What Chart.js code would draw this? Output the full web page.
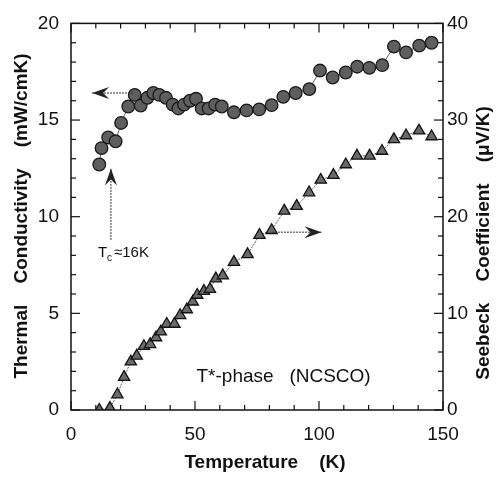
<!DOCTYPE html>
<html>
<head>
<meta charset="utf-8">
<script src="https://cdn.jsdelivr.net/npm/chart.js@4.4.1/dist/chart.umd.min.js"></script>
<style>
  body { margin: 0; background: #fff; }
  #wrap { width: 498px; height: 478px; position: relative; }
</style>
</head>
<body>
<div id="wrap"><canvas id="grafico" width="498" height="478"></canvas></div>
<script>
// thermal conductivity (left axis)
const tempKappa = [11.4, 12.3, 15.0, 18.0, 20.2, 23.1, 25.7, 28.1, 30.8, 33.2, 35.6, 38.3, 41.0, 43.3, 45.6, 48.0, 50.4, 52.7, 55.5, 58.1, 60.8, 65.7, 70.8, 75.9, 80.9, 85.6, 90.6, 96.1, 100.4, 105.5, 110.8, 115.4, 120.3, 125.5, 130.2, 135.1, 140.4, 145.4];
const kappa = [12.7, 13.55, 14.1, 13.9, 14.85, 15.7, 16.3, 15.75, 16.15, 16.4, 16.3, 16.15, 15.8, 15.6, 15.8, 16.0, 16.1, 15.6, 15.6, 15.8, 15.7, 15.4, 15.5, 15.55, 15.77, 16.2, 16.4, 16.6, 17.56, 17.2, 17.46, 17.76, 17.7, 17.84, 18.8, 18.5, 18.85, 19.0];

// seebeck (right axis)
const tempSeebeck = [11.4, 15.7, 18.7, 21.4, 24.1, 26.5, 29.4, 31.9, 34.3, 36.2, 38.6, 41.7, 44.0, 46.7, 49.1, 50.9, 53.6, 56.0, 58.4, 61.2, 65.7, 71.2, 76.0, 80.9, 86.0, 91.0, 96.0, 100.7, 105.8, 110.8, 115.3, 120.4, 125.4, 130.2, 135.1, 140.3, 145.4];
const seebeck = [0, 0.2, 1.6, 3.4, 5.0, 5.6, 6.6, 6.8, 7.5, 8.1, 8.9, 8.9, 9.8, 10.4, 11.2, 11.9, 12.3, 12.5, 13.6, 13.9, 15.3, 16.1, 18.1, 18.6, 20.6, 21.1, 22.5, 23.8, 24.3, 25.4, 26.3, 26.3, 26.8, 28.0, 28.4, 28.9, 28.3];

const fonte = '"Liberation Sans", Arial, sans-serif';

function juntaPontos(xs, ys) {
    return xs.map((x, i) => ({ x: x, y: ys[i] }));
}

// ticks pra dentro + titulos + setas
const extras = {
    id: 'extras',
    afterDraw(chart) {
        const ctx = chart.ctx;
        const a = chart.chartArea;
        const sx = chart.scales.x, sy = chart.scales.y, sy2 = chart.scales.y2;
        ctx.save();
        ctx.strokeStyle = '#111';
        ctx.lineWidth = 1.5;
        ctx.strokeRect(a.left, a.top, a.right - a.left, a.bottom - a.top);

        ctx.lineWidth = 1.2;
        for (let t = 0; t <= 150; t += 10) {
            let px = sx.getPixelForValue(t);
            let len = t % 50 == 0 ? 9 : 5;
            ctx.beginPath();
            ctx.moveTo(px, a.bottom); ctx.lineTo(px, a.bottom - len);
            ctx.moveTo(px, a.top); ctx.lineTo(px, a.top + len);
            ctx.stroke();
        }
        for (let v = 0; v <= 20; v += 1) {
            let py = sy.getPixelForValue(v);
            let len = v % 5 == 0 ? 9 : 5;
            ctx.beginPath();
            ctx.moveTo(a.left, py); ctx.lineTo(a.left + len, py);
            ctx.stroke();
        }
        for (let v = 0; v <= 40; v += 2) {
            let py = sy2.getPixelForValue(v);
            let len = v % 10 == 0 ? 9 : 5;
            ctx.beginPath();
            ctx.moveTo(a.right, py); ctx.lineTo(a.right - len, py);
            ctx.stroke();
        }

        // titulos dos eixos
        ctx.fillStyle = '#111';
        ctx.font = 'bold 19px ' + fonte;
        ctx.textAlign = 'center';
        ctx.textBaseline = 'middle';
        ctx.fillText('Temperature    (K)', 265, 463);

        ctx.save();
        ctx.translate(22, 216);
        ctx.rotate(-Math.PI / 2);
        ctx.fillText('Thermal    Conductivity    (mW/cmK)', 0, 0);
        ctx.restore();

        ctx.save();
        ctx.translate(484, 243);
        ctx.rotate(-Math.PI / 2);
        ctx.fillText('Seebeck    Coefficient    (\u03bcV/K)', 0, 0);
        ctx.restore();

        // setas
        function seta(x1, y1, x2, y2) {
            ctx.save();
            ctx.strokeStyle = '#333';
            ctx.lineWidth = 1;
            ctx.setLineDash([2, 1]);
            ctx.beginPath();
            ctx.moveTo(x1, y1); ctx.lineTo(x2, y2);
            ctx.stroke();
            ctx.setLineDash([]);
            let ang = Math.atan2(y2 - y1, x2 - x1);
            ctx.fillStyle = '#222';
            ctx.beginPath();
            ctx.moveTo(x2, y2);
            ctx.lineTo(x2 - 17 * Math.cos(ang) + 6 * Math.sin(ang), y2 - 17 * Math.sin(ang) - 6 * Math.cos(ang));
            ctx.lineTo(x2 - 11 * Math.cos(ang), y2 - 11 * Math.sin(ang));
            ctx.lineTo(x2 - 17 * Math.cos(ang) - 6 * Math.sin(ang), y2 - 17 * Math.sin(ang) + 6 * Math.cos(ang));
            ctx.closePath();
            ctx.fill();
            ctx.restore();
        }
        seta(sx.getPixelForValue(25), sy.getPixelForValue(16.4), sx.getPixelForValue(8.5), sy.getPixelForValue(16.4));
        seta(sx.getPixelForValue(81), sy2.getPixelForValue(18.4), sx.getPixelForValue(101), sy2.getPixelForValue(18.4));
        seta(sx.getPixelForValue(16.1), sy.getPixelForValue(8.8), sx.getPixelForValue(16.1), sy.getPixelForValue(12.5));

        // textos
        ctx.fillStyle = '#111';
        ctx.textAlign = 'left';
        ctx.textBaseline = 'alphabetic';
        ctx.font = '15px ' + fonte;
        let tx = sx.getPixelForValue(10.9), ty = sy.getPixelForValue(7.9);
        ctx.fillText('T', tx, ty);
        ctx.font = '10px ' + fonte;
        ctx.fillText('c', tx + 9, ty + 4);
        ctx.font = '15px ' + fonte;
        ctx.fillText('\u224816K', tx + 16, ty);

        ctx.font = '19px ' + fonte;
        ctx.textBaseline = 'middle';
        ctx.fillText('T*-phase   (NCSCO)', sx.getPixelForValue(50.6), sy.getPixelForValue(1.7));
        ctx.restore();
    }
};

const grafico = new Chart(document.getElementById('grafico'), {
    type: 'scatter',
    data: {
      datasets: [{
        label: 'Thermal Conductivity',
        data: juntaPontos(tempKappa, kappa),
        yAxisID: 'y',
        showLine: true,
        borderColor: '#666',
        borderWidth: 1,
        pointStyle: 'circle',
        pointRadius: 6.3,
        pointBackgroundColor: '#5e5e5e',
        pointBorderColor: '#1a1a1a',
        pointBorderWidth: 1.3
      }, {
        label: 'Seebeck',
        data: juntaPontos(tempSeebeck, seebeck),
        yAxisID: 'y2',
        showLine: true,
        borderColor: '#666',
        borderWidth: 1,
        borderDash: [2, 1],
        pointStyle: 'triangle',
        pointRadius: 6.5,
        pointBackgroundColor: '#6a6a6a',
        pointBorderColor: '#111',
        pointBorderWidth: 1.3
      }]
    },
    options: {
      responsive: false,
      animation: false,
      events: [],
      layout: { padding: { top: 14, left: 0, right: 0, bottom: 0 } },
      plugins: { legend: { display: false }, tooltip: { enabled: false } },
      scales: {
        x: {
          type: 'linear', min: 0, max: 150,
          afterFit: s => { s.height = 68; },
          grid: { display: false, drawTicks: false },
          border: { display: false },
          ticks: { stepSize: 50, padding: 13, color: '#111', font: { family: fonte, size: 19 } }
        },
        y: {
          type: 'linear', position: 'left', min: 0, max: 20,
          afterFit: s => { s.width = 71; },
          grid: { display: false, drawTicks: false },
          border: { display: false },
          ticks: { stepSize: 5, padding: 12, color: '#111', font: { family: fonte, size: 19 } }
        },
        y2: {
          type: 'linear', position: 'right', min: 0, max: 40,
          afterFit: s => { s.width = 55; },
          grid: { display: false, drawTicks: false },
          border: { display: false },
          ticks: { stepSize: 10, padding: 4, color: '#111', font: { family: fonte, size: 19 } }
        }
      }
    },
    plugins: [extras]
});
</script>
</body>
</html>
